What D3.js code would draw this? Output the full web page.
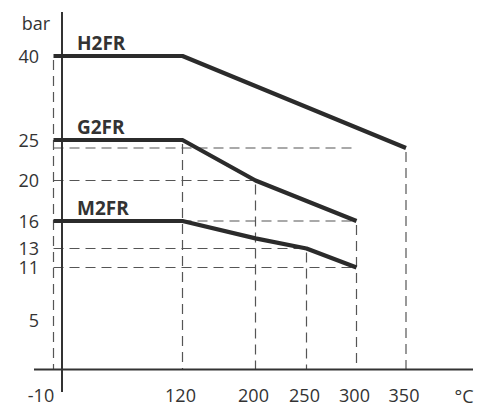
<!DOCTYPE html>
<html>
<head>
<meta charset="utf-8">
<script src="https://cdn.jsdelivr.net/npm/d3@7"></script>
<style>
  html, body { margin: 0; padding: 0; background: #fff; }
  svg { display: block; }
  text { font-family: "Open Sans", sans-serif; fill: #333; }
</style>
</head>
<body>
<svg id="chart" width="491" height="407"></svg>
<script>
// ---- data ----
const seriesNames = ["H2FR", "G2FR", "M2FR"];
const h2frTemps = [-10, 120, 350];
const h2frBar   = [40, 40, 24];
const g2frTemps = [-10, 120, 200, 300];
const g2frBar   = [25, 25, 20, 16];
const m2frTemps = [-10, 120, 200, 250, 300];
const m2frBar   = [16, 16, 14.1, 13, 11];
const xTickLabels = [-10, 120, 200, 250, 300, 350];
const yTickLabels = [40, 25, 20, 16, 13, 11, 5];
const xUnit = "°C";
const yUnit = "bar";

// reference (dashed) guides: [temp from, temp to, bar] and [temp, bar from]
const hGuides = [[-10, 300, 24], [-10, 200, 20], [-10, 300, 16], [-10, 250, 13], [-10, 300, 11]];
const vGuides = [[-10, 40], [120, 25], [200, 20], [250, 13], [300, 16], [350, 24]];

// ---- scales (the original diagram is not drawn to a linear scale) ----
const x = d3.scaleLinear()
  .domain([-10, 0, 120, 200, 250, 300, 350])
  .range([53.5, 62, 182.5, 255.5, 306.5, 356.5, 406]);
const y = d3.scaleLinear()
  .domain([0, 5, 11, 13, 16, 20, 24, 25, 40])
  .range([369.5, 320, 267.5, 248.5, 221, 180.5, 148, 140, 56]);

const fmt = d => String(d); // plain hyphen minus, as in the reference

const svg = d3.select("#chart");

// dashed guides
const g = svg.append("g").attr("stroke", "#555").attr("stroke-width", 1.2)
  .attr("stroke-dasharray", "10,6").attr("fill", "none");
hGuides.forEach(([t0, t1, b]) => {
  g.append("line").attr("x1", x(t0)).attr("x2", x(t1)).attr("y1", y(b)).attr("y2", y(b));
});
vGuides.forEach(([t, b]) => {
  g.append("line").attr("x1", x(t)).attr("x2", x(t)).attr("y1", y(b) + 4).attr("y2", y(0));
});

// axes lines
svg.append("line").attr("x1", 34).attr("x2", 473).attr("y1", y(0)).attr("y2", y(0))
  .attr("stroke", "#333").attr("stroke-width", 2);
svg.append("line").attr("x1", x(0)).attr("x2", x(0)).attr("y1", 12).attr("y2", 392)
  .attr("stroke", "#333").attr("stroke-width", 2);

// y axis labels
const yAxis = svg.append("g").attr("transform", `translate(${x(0)},0)`)
  .call(d3.axisLeft(y).tickValues(yTickLabels).tickSize(0).tickPadding(23).tickFormat(fmt));
yAxis.select(".domain").remove();
yAxis.selectAll("text").style("font-family", "'Open Sans', sans-serif").style("font-size", "18px")
  .attr("fill", "#333").attr("dy", "0.35em");

// x axis labels
const xAxis = svg.append("g").attr("transform", `translate(0,${y(0)})`)
  .call(d3.axisBottom(x).tickValues(xTickLabels).tickSize(0).tickPadding(20).tickFormat(fmt));
xAxis.select(".domain").remove();
xAxis.selectAll("text").style("font-family", "'Open Sans', sans-serif").style("font-size", "18px")
  .attr("fill", "#333").attr("dy", "0.71em")
  .attr("dx", d => d === -10 ? -13 : -2.5);

// units
svg.append("text").attr("x", 36).attr("y", 30).attr("text-anchor", "middle")
  .style("font-size", "18px").text(yUnit);
svg.append("text").attr("x", 464).attr("y", 403).attr("text-anchor", "middle")
  .style("font-size", "18px").text(xUnit);

// series
const seriesData = [
  { name: seriesNames[0], t: h2frTemps, v: h2frBar },
  { name: seriesNames[1], t: g2frTemps, v: g2frBar },
  { name: seriesNames[2], t: m2frTemps, v: m2frBar },
];
const line = d3.line().x(d => x(d[0])).y(d => y(d[1]));
seriesData.forEach(s => {
  const pts = s.t.map((t, i) => [t, s.v[i]]);
  svg.append("path").attr("d", line(pts)).attr("fill", "none")
    .attr("stroke", "#2b2b2b").attr("stroke-width", 4.2).attr("stroke-linejoin", "round");
  svg.append("text").attr("x", 77).attr("y", y(s.v[0]) - 6)
    .style("font-size", "19px").style("font-weight", "bold").attr("fill", "#2b2b2b").text(s.name);
});
</script>
</body>
</html>
